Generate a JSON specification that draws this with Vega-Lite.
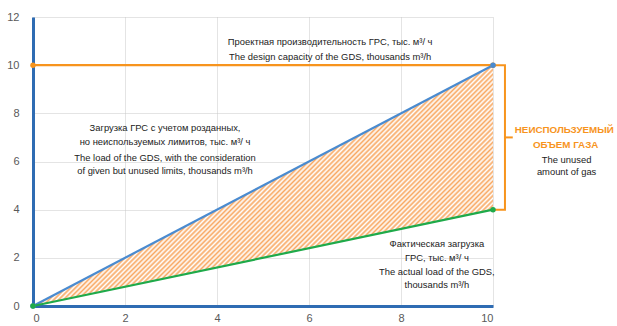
{
  "$schema": "https://vega.github.io/schema/vega-lite/v6.json",
  "width": 460,
  "height": 289,
  "autosize": "none",
  "padding": {"left": 33, "top": 17, "right": 124, "bottom": 20},
  "background": "white",
  "config": {
    "view": {"stroke": null},
    "font": "Liberation Sans",
    "axis": {
      "domainColor": "#2f6cb3",
      "domainWidth": 3,
      "ticks": false,
      "labelColor": "#595959",
      "labelFont": "Liberation Sans",
      "labelFontSize": 11,
      "gridColor": "#c8c8c8",
      "gridDash": [1, 1],
      "gridWidth": 1,
      "title": null
    }
  },
  "datasets": {
    "band": [
      {"x": 0, "upper": 0, "lower": 0},
      {"x": 10, "upper": 10, "lower": 4}
    ],
    "lines": [
      {"series": "design", "x": 0, "y": 10},
      {"series": "design", "x": 10, "y": 10},
      {"series": "limits", "x": 0, "y": 0},
      {"series": "limits", "x": 10, "y": 10},
      {"series": "actual", "x": 0, "y": 0},
      {"series": "actual", "x": 10, "y": 4}
    ],
    "bracket": [
      {"order": 1, "x": 10, "y": 10},
      {"order": 2, "x": 10.26, "y": 10},
      {"order": 3, "x": 10.26, "y": 4},
      {"order": 4, "x": 10, "y": 4}
    ],
    "tick": [{"x": 10.26, "x2": 10.43, "y": 7}],
    "labels": [
      {"x": 6.46, "y": 10.95, "text": "Проектная производительность ГРС, тыс. м³/ ч"},
      {"x": 6.46, "y": 10.33, "text": "The design capacity of the GDS, thousands m³/h"},
      {"x": 2.87, "y": 7.39, "text": "Загрузка ГРС с учетом розданных,"},
      {"x": 2.87, "y": 6.8, "text": "но неиспользуемых  лимитов, тыс. м³/ ч"},
      {"x": 2.87, "y": 6.14, "text": "The load of the GDS, with the consideration"},
      {"x": 2.87, "y": 5.62, "text": "of given but unused limits, thousands m³/h"},
      {"x": 8.78, "y": 2.57, "text": "Фактическая загрузка"},
      {"x": 8.78, "y": 1.99, "text": "ГРС, тыс.  м³/ ч"},
      {"x": 8.78, "y": 1.41, "text": "The actual load of the GDS,"},
      {"x": 8.78, "y": 0.87, "text": "thousands m³/h"},
      {"x": 11.6, "y": 6.06, "text": "The unused"},
      {"x": 11.6, "y": 5.56, "text": "amount of gas"}
    ],
    "title": [
      {"x": 11.55, "y": 7.3, "text": "НЕИСПОЛЬЗУЕМЫЙ"},
      {"x": 11.58, "y": 6.68, "text": "ОБЪЕМ ГАЗА"}
    ]
  },
  "layer": [
    {
      "data": {"name": "band"},
      "mark": {
        "type": "area",
        "fill": {
          "gradient": "linear",
          "x1": 0, "y1": 1, "x2": 0.6211, "y2": 1.3253,
          "stops": [
            {"offset": 0, "color": "#f8a862"}, {"offset": 0.0067, "color": "#ffffff"}, {"offset": 0.0133, "color": "#f8a862"},
            {"offset": 0.02, "color": "#ffffff"}, {"offset": 0.0267, "color": "#f8a862"}, {"offset": 0.0333, "color": "#ffffff"},
            {"offset": 0.04, "color": "#f8a862"}, {"offset": 0.0467, "color": "#ffffff"}, {"offset": 0.0533, "color": "#f8a862"},
            {"offset": 0.06, "color": "#ffffff"}, {"offset": 0.0667, "color": "#f8a862"}, {"offset": 0.0733, "color": "#ffffff"},
            {"offset": 0.08, "color": "#f8a862"}, {"offset": 0.0867, "color": "#ffffff"}, {"offset": 0.0933, "color": "#f8a862"},
            {"offset": 0.1, "color": "#ffffff"}, {"offset": 0.1067, "color": "#f8a862"}, {"offset": 0.1133, "color": "#ffffff"},
            {"offset": 0.12, "color": "#f8a862"}, {"offset": 0.1267, "color": "#ffffff"}, {"offset": 0.1333, "color": "#f8a862"},
            {"offset": 0.14, "color": "#ffffff"}, {"offset": 0.1467, "color": "#f8a862"}, {"offset": 0.1533, "color": "#ffffff"},
            {"offset": 0.16, "color": "#f8a862"}, {"offset": 0.1667, "color": "#ffffff"}, {"offset": 0.1733, "color": "#f8a862"},
            {"offset": 0.18, "color": "#ffffff"}, {"offset": 0.1867, "color": "#f8a862"}, {"offset": 0.1933, "color": "#ffffff"},
            {"offset": 0.2, "color": "#f8a862"}, {"offset": 0.2067, "color": "#ffffff"}, {"offset": 0.2133, "color": "#f8a862"},
            {"offset": 0.22, "color": "#ffffff"}, {"offset": 0.2267, "color": "#f8a862"}, {"offset": 0.2333, "color": "#ffffff"},
            {"offset": 0.24, "color": "#f8a862"}, {"offset": 0.2467, "color": "#ffffff"}, {"offset": 0.2533, "color": "#f8a862"},
            {"offset": 0.26, "color": "#ffffff"}, {"offset": 0.2667, "color": "#f8a862"}, {"offset": 0.2733, "color": "#ffffff"},
            {"offset": 0.28, "color": "#f8a862"}, {"offset": 0.2867, "color": "#ffffff"}, {"offset": 0.2933, "color": "#f8a862"},
            {"offset": 0.3, "color": "#ffffff"}, {"offset": 0.3067, "color": "#f8a862"}, {"offset": 0.3133, "color": "#ffffff"},
            {"offset": 0.32, "color": "#f8a862"}, {"offset": 0.3267, "color": "#ffffff"}, {"offset": 0.3333, "color": "#f8a862"},
            {"offset": 0.34, "color": "#ffffff"}, {"offset": 0.3467, "color": "#f8a862"}, {"offset": 0.3533, "color": "#ffffff"},
            {"offset": 0.36, "color": "#f8a862"}, {"offset": 0.3667, "color": "#ffffff"}, {"offset": 0.3733, "color": "#f8a862"},
            {"offset": 0.38, "color": "#ffffff"}, {"offset": 0.3867, "color": "#f8a862"}, {"offset": 0.3933, "color": "#ffffff"},
            {"offset": 0.4, "color": "#f8a862"}, {"offset": 0.4067, "color": "#ffffff"}, {"offset": 0.4133, "color": "#f8a862"},
            {"offset": 0.42, "color": "#ffffff"}, {"offset": 0.4267, "color": "#f8a862"}, {"offset": 0.4333, "color": "#ffffff"},
            {"offset": 0.44, "color": "#f8a862"}, {"offset": 0.4467, "color": "#ffffff"}, {"offset": 0.4533, "color": "#f8a862"},
            {"offset": 0.46, "color": "#ffffff"}, {"offset": 0.4667, "color": "#f8a862"}, {"offset": 0.4733, "color": "#ffffff"},
            {"offset": 0.48, "color": "#f8a862"}, {"offset": 0.4867, "color": "#ffffff"}, {"offset": 0.4933, "color": "#f8a862"},
            {"offset": 0.5, "color": "#ffffff"}, {"offset": 0.5067, "color": "#f8a862"}, {"offset": 0.5133, "color": "#ffffff"},
            {"offset": 0.52, "color": "#f8a862"}, {"offset": 0.5267, "color": "#ffffff"}, {"offset": 0.5333, "color": "#f8a862"},
            {"offset": 0.54, "color": "#ffffff"}, {"offset": 0.5467, "color": "#f8a862"}, {"offset": 0.5533, "color": "#ffffff"},
            {"offset": 0.56, "color": "#f8a862"}, {"offset": 0.5667, "color": "#ffffff"}, {"offset": 0.5733, "color": "#f8a862"},
            {"offset": 0.58, "color": "#ffffff"}, {"offset": 0.5867, "color": "#f8a862"}, {"offset": 0.5933, "color": "#ffffff"},
            {"offset": 0.6, "color": "#f8a862"}, {"offset": 0.6067, "color": "#ffffff"}, {"offset": 0.6133, "color": "#f8a862"},
            {"offset": 0.62, "color": "#ffffff"}, {"offset": 0.6267, "color": "#f8a862"}, {"offset": 0.6333, "color": "#ffffff"},
            {"offset": 0.64, "color": "#f8a862"}, {"offset": 0.6467, "color": "#ffffff"}, {"offset": 0.6533, "color": "#f8a862"},
            {"offset": 0.66, "color": "#ffffff"}, {"offset": 0.6667, "color": "#f8a862"}, {"offset": 0.6733, "color": "#ffffff"},
            {"offset": 0.68, "color": "#f8a862"}, {"offset": 0.6867, "color": "#ffffff"}, {"offset": 0.6933, "color": "#f8a862"},
            {"offset": 0.7, "color": "#ffffff"}, {"offset": 0.7067, "color": "#f8a862"}, {"offset": 0.7133, "color": "#ffffff"},
            {"offset": 0.72, "color": "#f8a862"}, {"offset": 0.7267, "color": "#ffffff"}, {"offset": 0.7333, "color": "#f8a862"},
            {"offset": 0.74, "color": "#ffffff"}, {"offset": 0.7467, "color": "#f8a862"}, {"offset": 0.7533, "color": "#ffffff"},
            {"offset": 0.76, "color": "#f8a862"}, {"offset": 0.7667, "color": "#ffffff"}, {"offset": 0.7733, "color": "#f8a862"},
            {"offset": 0.78, "color": "#ffffff"}, {"offset": 0.7867, "color": "#f8a862"}, {"offset": 0.7933, "color": "#ffffff"},
            {"offset": 0.8, "color": "#f8a862"}, {"offset": 0.8067, "color": "#ffffff"}, {"offset": 0.8133, "color": "#f8a862"},
            {"offset": 0.82, "color": "#ffffff"}, {"offset": 0.8267, "color": "#f8a862"}, {"offset": 0.8333, "color": "#ffffff"},
            {"offset": 0.84, "color": "#f8a862"}, {"offset": 0.8467, "color": "#ffffff"}, {"offset": 0.8533, "color": "#f8a862"},
            {"offset": 0.86, "color": "#ffffff"}, {"offset": 0.8667, "color": "#f8a862"}, {"offset": 0.8733, "color": "#ffffff"},
            {"offset": 0.88, "color": "#f8a862"}, {"offset": 0.8867, "color": "#ffffff"}, {"offset": 0.8933, "color": "#f8a862"},
            {"offset": 0.9, "color": "#ffffff"}, {"offset": 0.9067, "color": "#f8a862"}, {"offset": 0.9133, "color": "#ffffff"},
            {"offset": 0.92, "color": "#f8a862"}, {"offset": 0.9267, "color": "#ffffff"}, {"offset": 0.9333, "color": "#f8a862"},
            {"offset": 0.94, "color": "#ffffff"}, {"offset": 0.9467, "color": "#f8a862"}, {"offset": 0.9533, "color": "#ffffff"},
            {"offset": 0.96, "color": "#f8a862"}, {"offset": 0.9667, "color": "#ffffff"}, {"offset": 0.9733, "color": "#f8a862"},
            {"offset": 0.98, "color": "#ffffff"}, {"offset": 0.9867, "color": "#f8a862"}, {"offset": 0.9933, "color": "#ffffff"},
            {"offset": 1, "color": "#f8a862"}
          ]
        }
      },
      "encoding": {
        "x": {"field": "x", "type": "quantitative", "scale": {"domain": [0, 10], "nice": false},
              "axis": {"values": [0, 2, 4, 6, 8, 10], "labelPadding": 6}},
        "y": {"field": "upper", "type": "quantitative", "scale": {"domain": [0, 12], "nice": false},
              "axis": {"values": [0, 2, 4, 6, 8, 10, 12], "labelPadding": 14}},
        "y2": {"field": "lower"}
      }
    },
    {
      "data": {"name": "bracket"},
      "mark": {"type": "line", "color": "#f7941d", "strokeWidth": 2, "clip": false},
      "encoding": {
        "x": {"field": "x", "type": "quantitative"},
        "y": {"field": "y", "type": "quantitative"},
        "order": {"field": "order"}
      }
    },
    {
      "data": {"name": "tick"},
      "mark": {"type": "rule", "color": "#f7941d", "strokeWidth": 2, "clip": false},
      "encoding": {
        "x": {"field": "x", "type": "quantitative"},
        "x2": {"field": "x2"},
        "y": {"field": "y", "type": "quantitative"}
      }
    },
    {
      "data": {"name": "lines"},
      "mark": {"type": "line", "strokeWidth": 2.2, "clip": false, "point": {"filled": true, "size": 30}},
      "encoding": {
        "x": {"field": "x", "type": "quantitative"},
        "y": {"field": "y", "type": "quantitative"},
        "color": {"field": "series", "type": "nominal", "legend": null,
                  "scale": {"domain": ["design", "limits", "actual"], "range": ["#f7941d", "#4a8bd0", "#1faa4a"]}}
      }
    },
    {
      "data": {"name": "labels"},
      "mark": {"type": "text", "font": "Liberation Sans", "fontSize": 9.4, "color": "#222222", "align": "center", "baseline": "middle", "clip": false},
      "encoding": {
        "x": {"field": "x", "type": "quantitative"},
        "y": {"field": "y", "type": "quantitative"},
        "text": {"field": "text"}
      }
    },
    {
      "data": {"name": "title"},
      "mark": {"type": "text", "font": "Liberation Sans", "fontSize": 9.8, "fontWeight": "bold", "color": "#f7941d", "align": "center", "baseline": "middle", "clip": false},
      "encoding": {
        "x": {"field": "x", "type": "quantitative"},
        "y": {"field": "y", "type": "quantitative"},
        "text": {"field": "text"}
      }
    }
  ]
}
